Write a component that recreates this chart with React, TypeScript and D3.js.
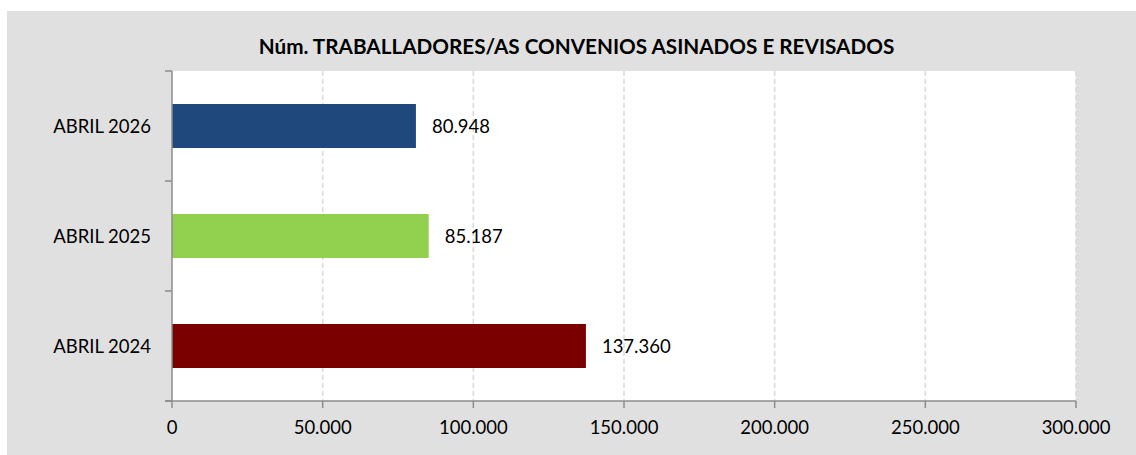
import React from "react";
import * as d3 from "d3";

const categories = ["ABRIL 2026", "ABRIL 2025", "ABRIL 2024"];
const values = [80948, 85187, 137360];
const barColors = ["#1F497D", "#92D050", "#7A0000"];
const xTicks = [0, 50000, 100000, 150000, 200000, 250000, 300000];
const title = "Núm. TRABALLADORES/AS CONVENIOS ASINADOS E REVISADOS";

const W = 1136;
const H = 455;
const plot = { left: 172, right: 1076, top: 71, bottom: 401 };
const FONT = "Lato, 'Open Sans', sans-serif";

const fmt = (v: number) => {
  const s = Math.round(v).toString();
  return s.replace(/\B(?=(\d{3})+(?!\d))/g, ".");
};

export default function App() {
  const x = d3.scaleLinear().domain([0, 300000]).range([plot.left, plot.right]);
  const y = d3
    .scaleBand<string>()
    .domain(categories)
    .range([plot.top, plot.bottom])
    .paddingInner(0.6)
    .paddingOuter(0.3);
  const step = y.step();
  const boundaries = d3.range(categories.length + 1).map((i) => plot.top + i * step);

  return (
    <svg
      width={W}
      height={H}
      style={{ position: "absolute", left: 0, top: 0 }}
      fontFamily={FONT}
    >
      <rect x={7} y={11} width={W - 7} height={H - 11} fill="#e0e0e0" />
      <rect
        x={plot.left}
        y={plot.top}
        width={plot.right - plot.left}
        height={plot.bottom - plot.top}
        fill="#ffffff"
      />
      {xTicks.slice(1).map((t) => (
        <line
          key={"g" + t}
          x1={x(t)}
          x2={x(t)}
          y1={plot.top}
          y2={plot.bottom}
          stroke="#d9d9d9"
          strokeWidth={1.5}
          strokeDasharray="5,3"
        />
      ))}
      <text
        x={576.5}
        y={54}
        textAnchor="middle"
        fontWeight="bold"
        fontSize={20.7}
        fill="#000"
      >
        {title}
      </text>
      {categories.map((c, i) => (
        <rect
          key={"b" + c}
          x={x(0)}
          y={y(c)!}
          width={x(values[i]) - x(0)}
          height={y.bandwidth()}
          fill={barColors[i]}
        />
      ))}
      {categories.map((c, i) => (
        <text
          key={"v" + c}
          x={x(values[i]) + 16}
          y={y(c)! + y.bandwidth() / 2 + 6.8}
          fontSize={18.5}
          fill="#000"
        >
          {fmt(values[i])}
        </text>
      ))}
      {categories.map((c) => (
        <text
          key={"c" + c}
          x={151}
          y={y(c)! + y.bandwidth() / 2 + 6.5}
          textAnchor="end"
          fontSize={18.5}
          fill="#000"
        >
          {c}
        </text>
      ))}
      <line x1={plot.left} x2={plot.left} y1={plot.top} y2={plot.bottom} stroke="#8c8c8c" strokeWidth={1.5} />
      {boundaries.map((b, i) => (
        <line key={"yt" + i} x1={plot.left - 7} x2={plot.left} y1={b} y2={b} stroke="#8c8c8c" strokeWidth={1.5} />
      ))}
      <line x1={plot.left - 7} x2={plot.right} y1={plot.bottom} y2={plot.bottom} stroke="#8c8c8c" strokeWidth={1.5} />
      {xTicks.map((t) => (
        <g key={"xt" + t}>
          <line x1={x(t)} x2={x(t)} y1={plot.bottom} y2={plot.bottom + 7} stroke="#8c8c8c" strokeWidth={1.5} />
          <text x={x(t)} y={434} textAnchor="middle" fontSize={18.5} fill="#000">
            {fmt(t)}
          </text>
        </g>
      ))}
    </svg>
  );
}
